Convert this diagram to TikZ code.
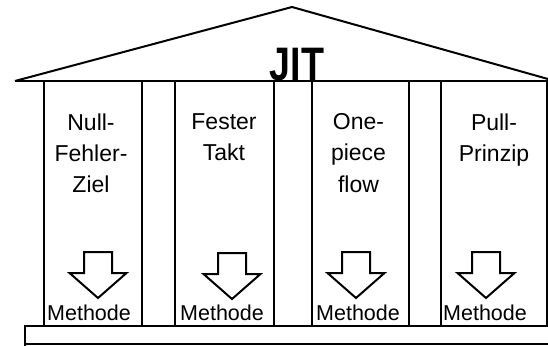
\documentclass[tikz,border=0pt]{standalone}
\usepackage{fontspec}
\setmainfont{Liberation Sans}
\begin{document}
\begin{tikzpicture}[x=1pt,y=-1pt,
  line join=miter,
  roofline/.style={draw=black,line width=2pt},
  pillar/.style={draw=black,line width=2pt},
  baseplate/.style={draw=black,line width=1.4pt},
  label/.style={anchor=north,inner sep=0pt,align=center,
    font=\fontsize{23}{31.2}\selectfont},
  method/.style={anchor=base,inner sep=0pt,font=\fontsize{21.5}{24}\selectfont},
  downarrow/.pic={\draw[line width=2pt,fill=white]
    (-14,0) -- (14,0) -- (14,21) -- (28.5,21) -- (0,46) -- (-28.5,21) -- (-14,21) -- cycle;}
]
\useasboundingbox (0,0) rectangle (548,345);
\clip (0,0) rectangle (548,345);

% foundation slab
\draw[baseplate] (25,350) -- (25,326) -- (560,326);
\draw[baseplate] (25,344) -- (560,344);

% pillars
\draw[pillar] (44,81) rectangle (142,326);
\draw[pillar] (175,81) rectangle (274,326);
\draw[pillar] (312,81) rectangle (409,326);
\draw[pillar] (441,81) rectangle (547,326);

% roof
\coordinate (eaveL) at (15,81);
\coordinate (apex) at (292,7);
\coordinate (eaveR) at (548,79);
\draw[roofline] (eaveL) -- (apex) -- (eaveR);
\draw[roofline] (eaveL) -- (548,81);

\node[anchor=base,inner sep=0pt,font=\fontsize{47}{50}\selectfont\bfseries,xscale=0.8]
  (jit) at (297,80) {JIT};

% pillar titles
\node[label] (t1) at (91,113.5) {Null-\\Fehler-\\Ziel};
\node[label] (t2) at (224,113.5) {Fester\\Takt};
\node[label] (t3) at (358.5,113.5) {One-\\piece\\flow};
\node[label] (t4) at (494,113.5) {Pull-\\Prinzip};

% arrows
\pic at (98,252) {downarrow};
\pic at (232,253) {downarrow};
\pic at (356,252) {downarrow};
\pic at (486,252) {downarrow};

% method labels
\node[method] (m1) at (89,320) {Methode};
\node[method] (m2) at (222,320) {Methode};
\node[method] (m3) at (358,320) {Methode};
\node[method] (m4) at (485,320) {Methode};
\end{tikzpicture}
\end{document}
